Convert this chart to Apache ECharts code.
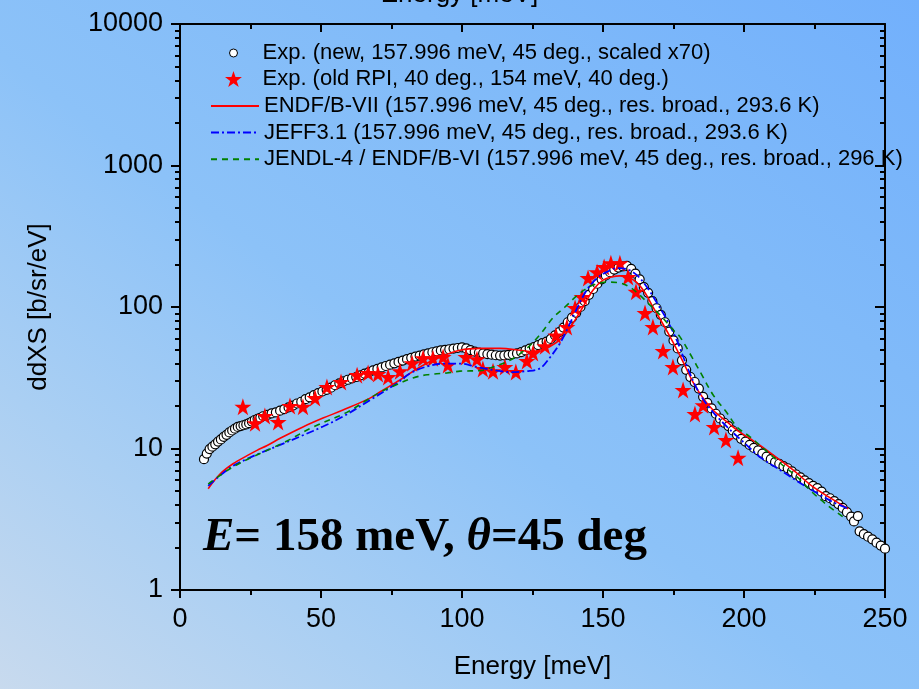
<!DOCTYPE html>
<html>
<head>
<meta charset="utf-8">
<script src="https://cdn.jsdelivr.net/npm/echarts@6/dist/echarts.min.js"></script>
<style>
html,body{margin:0;padding:0;}
#chart{width:919px;height:689px;background:linear-gradient(to top right,#c8daee 0%,#aacff3 22%,#8cc2f8 46%,#80baf9 72%,#72b0fc 100%);}
</style>
</head>
<body>
<div id="chart"></div>
<script>
// Energy [meV] / ddXS [b/sr/eV] pairs
const expNew = [
  [8.5,8.4],[9.5,9.2],[10.5,9.9],[11.5,10.3],[12.5,10.7],[13.5,11.2],[14.5,11.6],[15.5,12.1],[16.5,12.5],[17.5,13.0],
  [18.5,13.4],[19.5,13.8],[20.5,14.2],[21.5,14.4],[22.5,14.6],[23.5,14.8],[24.5,15.1],[25.5,15.5],[26.5,15.9],[27.5,16.2],
  [28.5,16.5],[29.5,16.9],[31,17.3],[32.5,17.7],[34,18.0],[35.5,18.5],[37,19.0],[38.5,19.5],[40,20.1],[41.5,20.8],
  [43,21.4],[44.5,22.3],[46,23.0],[47.5,23.8],[49,24.6],[50.5,25.3],[52,26.0],[53.5,26.9],[55,28.0],[56.5,28.9],
  [58,29.8],[59.5,30.6],[61,31.3],[62.5,32.0],[64,32.9],[65.5,33.8],[67,34.6],[68.5,35.6],[70,36.5],[71.5,37.4],
  [73,38.3],[74.5,39.1],[76,40.0],[77.5,40.9],[79,41.8],[80.5,42.8],[82,43.7],[83.5,44.6],[85,45.4],[86.5,46.3],
  [88,47.0],[89.5,47.9],[91,48.6],[92.5,49.3],[94,49.8],[95.5,50.3],[97,50.8],[98.5,51.3],[100,51.8],[101.5,51.0],
  [103,49.6],[104.5,48.4],[106,47.6],[107.5,47.0],[109,46.5],[110.5,46.0],[112,45.6],[113.5,45.4],[115,45.5],[116.5,45.9],
  [118,46.4],[119.5,47.0],[121,48.0],[122.5,49.3],[124,50.8],[125.5,52.0],[127,53.8],[128.5,55.5],[130,57.0],[131.5,59.5],
  [133,63.0],[134.5,66.5],[136,71.5],[137.5,78],[139,84],[140.5,91],[142,100],[143.5,110],[145,122],[146.5,134],
  [148,146],[149.5,157],[151,167],[152.5,176],[154,184],[155.5,190],[157,194],[158.5,195],[160,186],[161.5,172],
  [163,157],[164.5,138],[166,126],[167.5,110],[169,98],[170.5,88],[172,78],[173.5,67],[175,58],[176.5,51],
  [178,42],[179.5,36],[181,32],[182.5,29.5],[184,26.5],[185.5,23.2],[187,21.0],[188.5,19.2],[190,17.6],[191.5,16.3],
  [193,15.2],[194.5,14.4],[196,13.4],[197.5,12.5],[199,11.7],[200.5,11.2],[202,10.6],[203.5,10.1],[205,9.7],[206.5,9.2],
  [208,8.75],[209.5,8.4],[211,8.0],[212.5,7.8],[214,7.5],[215.5,7.25],[217,6.9],[218.5,6.55],[220,6.25],[221.5,5.95],
  [223,5.7],[224.5,5.45],[226,5.25],[227.5,4.95],[229,4.6],[230.5,4.45],[232,4.25],[233.5,4.05],[235,3.8],[236.5,3.55],
  [238,3.3],[239,3.05],[240.4,3.33],[241,2.6],[242.5,2.48],[244,2.38],[245.5,2.28],[247,2.16],[248.5,2.06],[250,1.96]
];

const expOld = [
  [22.3,19.7],[26.6,15.1],[30.1,17.0],[34.8,15.4],[39.0,20.0],[43.6,19.7],[47.9,22.7],[52.1,27.2],[57.1,29.5],[62.8,33.0],
  [66.7,34.2],[70.2,33.6],[73.8,32.0],[78.0,35.2],[82.3,40.1],[86.2,43.4],[89.7,43.4],[93.3,44.3],[95.0,38.9],[101.4,44.3],
  [105.3,42.8],[107.4,36.5],[111.0,35.2],[115.2,37.7],[119.1,34.7],[123.0,41.5],[125.2,47.3],[129.4,52.9],[133.3,63.0],[137.2,72.1],
  [140.1,98.4],[142.6,117.7],[144.7,160],[147.9,176],[150.4,192],[152.8,204],[156.0,204],[158.9,163],[161.7,128],[164.9,90.7],
  [167.7,72.1],[171.3,48.8],[174.8,37.7],[178.4,25.9],[182.6,17.5],[185.5,20.2],[189.4,14.2],[193.6,11.5],[197.9,8.6]
];

const endfB7 = [
  [10,5.2],[14.2,6.6],[18.8,7.8],[23.8,8.9],[27.3,9.7],[30.9,10.5],[35.5,11.8],[43.6,14.2],[50.7,16.4],[57.8,18.7],
  [67.4,22.7],[70.9,25.1],[78,30.5],[85.1,37.7],[92.2,44.3],[99.3,49.5],[106.4,51.0],[113.5,51.0],[120.6,49.5],[124.1,48.5],
  [127.5,49.5],[131.2,52.5],[135.8,61.5],[139.4,77],[142.9,100],[146.5,132],[150,155],[153.5,164],[156,166],[159.6,160],
  [162.1,148],[164.9,126],[167.7,100],[170.9,78],[173.8,61.5],[176.2,50],[178.4,41],[181.9,29.5],[185.5,22.7],[189,18.7],
  [194,15.4],[197.5,13.5],[204.6,10.9],[210.3,9.0],[217.4,7.05],[224.5,5.35],[231.6,4.35],[236.9,3.75]
];

const jeff31 = [
  [10,5.45],[17.7,7.3],[23,8.3],[29.1,9.4],[35.5,10.6],[43.6,12.4],[50.7,14.3],[58,16.9],[67.4,22.0],[77,29],
  [81.6,34],[87.6,38],[93.3,39.8],[99.3,39.8],[105.3,37.7],[111,35.9],[117,34.7],[123,35.2],[127.7,36.9],[131.2,44],
  [134.8,55.6],[137.2,68.8],[140.8,98],[144.3,132],[147.9,160],[151.4,177],[155,188],[158.5,185],[162,168],[165.6,138],
  [169.1,107],[172.7,81],[176.2,58],[179.8,38],[183.5,26],[187.9,19.2],[194,14.2],[199.6,11.2],[205.7,8.7],[212.8,7.05],
  [219.9,5.7],[225.9,4.84],[231.6,4.18],[236.5,3.79]
];

const jendl4 = [
  [10,5.6],[17,7.05],[24,8.4],[30.9,9.7],[37.9,11.3],[47.2,14.2],[59.2,18],[66.3,22],[70.9,25],[75.5,27.5],
  [82.6,31.5],[87.6,33.2],[94.7,34.2],[99.3,35.2],[106.4,35.5],[111,37.7],[117,42],[123,51],[128,65],[132.3,84],
  [136.5,100],[141.8,125],[146.5,143],[151.4,150],[156,148],[159.6,138],[163.1,121],[166.7,103],[170.9,85],[174.8,69],
  [177.3,61.5],[181.6,44],[185.1,33],[189,24],[194,17.8],[197.5,14.2],[202.1,12.1],[206.7,10.1],[212.8,7.9],[218.8,6.3],
  [224.5,4.85],[229.4,4.0],[235,3.3]
];

const seriesNames = [
  'Exp. (new, 157.996 meV, 45 deg., scaled x70)',
  'Exp. (old RPI, 40 deg., 154 meV, 40 deg.)',
  'ENDF/B-VII (157.996 meV, 45 deg., res. broad., 293.6 K)',
  'JEFF3.1 (157.996 meV, 45 deg., res. broad., 293.6 K)',
  'JENDL-4 / ENDF/B-VI (157.996 meV, 45 deg., res. broad., 296 K)'
];

const xTickValues = [0, 50, 100, 150, 200, 250];
const yDecadeLabels = [1, 10, 100, 1000, 10000];
const yMinorTicks = [2,3,4,5,6,7,8,9,20,30,40,50,60,70,80,90,200,300,400,500,600,700,800,900,2000,3000,4000,5000,6000,7000,8000,9000];

const FONT = '"Liberation Sans", Arial, sans-serif';
const SERIF = '"Liberation Serif", "Times New Roman", serif';
const STAR = 'path://M50,0 L61.8,35.3 L98.9,35.3 L68.9,57.1 L80.4,92.4 L50,70.6 L19.6,92.4 L31.1,57.1 L1.1,35.3 L38.2,35.3 Z';
const black = '#000';

const chart = echarts.init(document.getElementById('chart'), null, {renderer: 'canvas'});

const axisLineStyle = {show: true, lineStyle: {color: black, width: 2}};
const tickLine = {color: black, width: 2};

const legendText = {color: black, fontSize: 22, fontFamily: FONT, lineHeight: 22};

chart.setOption({
  backgroundColor: 'transparent',
  animation: false,
  grid: {left: 180, right: 34, top: 24, bottom: 99, containLabel: false},
  xAxis: [
    {
      type: 'value', min: 0, max: 250, interval: 50, position: 'bottom',
      axisLine: axisLineStyle,
      axisTick: {show: true, length: 8, lineStyle: tickLine},
      minorTick: {show: true, splitNumber: 2, length: 5, lineStyle: tickLine},
      axisLabel: {
        color: black, fontSize: 27, fontFamily: FONT, margin: 16,
        formatter: v => xTickValues.includes(v) ? String(v) : ''
      },
      splitLine: {show: false},
      name: 'Energy [meV]', nameLocation: 'middle', nameGap: 64,
      nameTextStyle: {color: black, fontSize: 26, fontFamily: FONT}
    },
    {
      type: 'value', min: 0, max: 250, interval: 50, position: 'top',
      axisLine: axisLineStyle,
      axisTick: {show: true, inside: true, length: 8, lineStyle: tickLine},
      minorTick: {show: true, splitNumber: 2, length: 5, lineStyle: tickLine},
      axisLabel: {show: false},
      splitLine: {show: false}
    }
  ],
  yAxis: [
    {
      type: 'log', logBase: 10, min: 1, max: 10000, position: 'left',
      axisLine: axisLineStyle,
      axisTick: {show: true, length: 9, lineStyle: tickLine},
      axisLabel: {
        color: black, fontSize: 27, fontFamily: FONT, margin: 17,
        formatter: v => yDecadeLabels.includes(Math.round(v)) ? String(Math.round(v)) : ''
      },
      splitLine: {show: false},
      name: 'ddXS [b/sr/eV]', nameLocation: 'middle', nameGap: 128, nameRotate: 90,
      nameTextStyle: {color: black, fontSize: 26, fontFamily: FONT}
    },
    {
      type: 'log', logBase: 10, min: 1, max: 10000, position: 'left',
      axisLine: {show: false},
      axisTick: {show: true, length: 5, lineStyle: tickLine, customValues: yMinorTicks},
      axisLabel: {show: false},
      splitLine: {show: false}
    },
    {
      type: 'log', logBase: 10, min: 1, max: 10000, position: 'right',
      axisLine: axisLineStyle,
      axisTick: {show: true, inside: true, length: 10, lineStyle: tickLine},
      axisLabel: {show: false},
      splitLine: {show: false}
    },
    {
      type: 'log', logBase: 10, min: 1, max: 10000, position: 'right',
      axisLine: {show: false},
      axisTick: {show: true, inside: true, length: 5, lineStyle: tickLine, customValues: yMinorTicks},
      axisLabel: {show: false},
      splitLine: {show: false}
    }
  ],
  legend: [
    {
      data: [{name: seriesNames[0], icon: 'circle'}], left: 229, top: 42, padding: 0,
      itemWidth: 48, itemHeight: 8, textStyle: legendText, selectedMode: false,
      itemStyle: {borderColor: black, borderWidth: 1}
    },
    {
      data: [{name: seriesNames[1], icon: STAR}], left: 225, top: 68, padding: 0,
      itemWidth: 48, itemHeight: 16, textStyle: legendText, selectedMode: false
    },
    {
      data: seriesNames.slice(2), left: 210, top: 95, padding: 0, orient: 'vertical',
      itemGap: 4.6, itemWidth: 48, itemHeight: 14, textStyle: legendText, selectedMode: false,
      itemStyle: {opacity: 0}
    }
  ],
  graphic: [
    {
      type: 'text', left: 'center', top: -18, z: 10,
      style: {text: 'Energy [meV]', fill: black, font: '26px ' + FONT}
    },
    {
      type: 'text', x: 203, y: 538, z: 10,
      style: {
        text: '{i|E}{b|= 158 meV, }{i|θ}{b|=45 deg}',
        verticalAlign: 'middle',
        rich: {
          i: {fontFamily: SERIF, fontSize: 47, fontWeight: 'bold', fontStyle: 'italic', fill: black},
          b: {fontFamily: SERIF, fontSize: 47, fontWeight: 'bold', fill: black}
        }
      }
    }
  ],
  series: [
    {
      name: seriesNames[0], type: 'scatter', data: expNew,
      symbol: 'circle', symbolSize: 9,
      itemStyle: {color: '#ffffff', borderColor: black, borderWidth: 1.2, opacity: 1},
      z: 2
    },
    {
      name: seriesNames[1], type: 'scatter', data: expOld,
      symbol: STAR, symbolSize: 17,
      itemStyle: {color: '#ff0000', opacity: 1},
      z: 3
    },
    {
      name: seriesNames[2], type: 'line', data: endfB7, smooth: 0.35,
      symbol: 'none', showSymbol: false,
      lineStyle: {color: '#ff0000', width: 1.6, type: 'solid'},
      itemStyle: {color: '#ff0000'},
      z: 4
    },
    {
      name: seriesNames[3], type: 'line', data: jeff31, smooth: 0.35,
      symbol: 'none', showSymbol: false,
      lineStyle: {color: '#0000ff', width: 1.8, type: [8, 3, 2, 3]},
      itemStyle: {color: '#0000ff'},
      z: 5
    },
    {
      name: seriesNames[4], type: 'line', data: jendl4, smooth: 0.35,
      symbol: 'none', showSymbol: false,
      lineStyle: {color: '#008000', width: 1.6, type: [6, 5]},
      itemStyle: {color: '#008000'},
      z: 6
    }
  ]
});
</script>
</body>
</html>
